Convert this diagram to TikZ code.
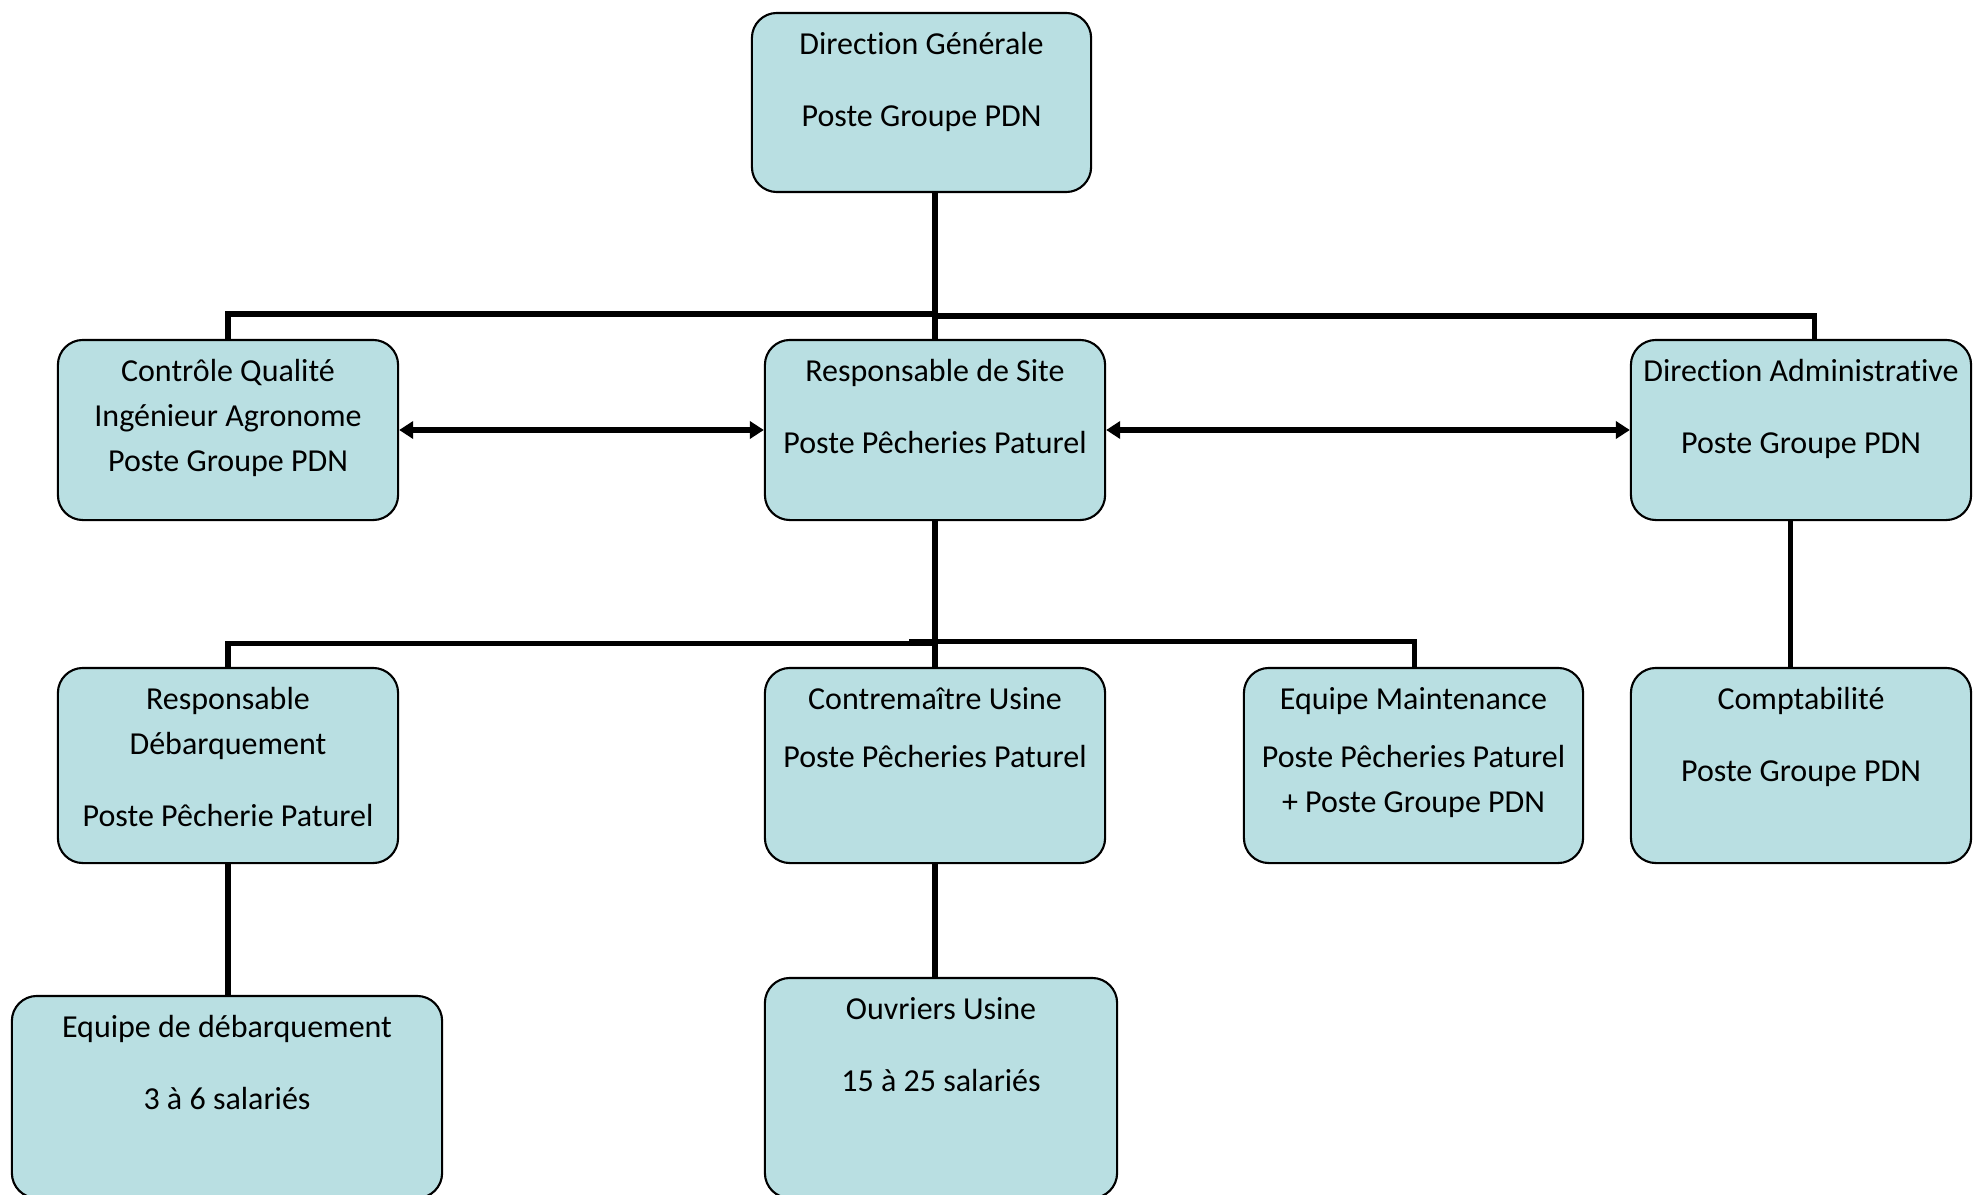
\documentclass[tikz,border=0pt]{standalone}
\usepackage{fontspec}
\setmainfont{Carlito}[Ligatures=NoCommon]
\usepackage{tikz}
\usetikzlibrary{positioning,calc,arrows.meta}

\definecolor{boxfill}{RGB}{185,223,226}
\tikzset{
    orgbox/.style={draw=black, line width=0.6pt, fill=boxfill, rounded corners=0.25cm, inner sep=0pt, minimum width=3.4cm},
    orgtxt/.style={anchor=north, align=center, inner sep=0pt, font=\fontsize{9.1}{12.8}\selectfont},
    link/.style={line width=1.45pt},
    dlink/.style={line width=1.45pt, {Triangle[length=0.14cm,width=0.17cm]}-{Triangle[length=0.14cm,width=0.17cm]}}
}

\begin{document}
\begin{tikzpicture}[x=0.01cm, y=-0.01cm]
    \useasboundingbox (0,0) rectangle (1973,1194);
    \clip (0,0) rectangle (1973,1194);

    % top
    \node[orgbox, minimum width=3.39cm, minimum height=1.79cm] (dg) at (921.5,102.5) {};
    \node[orgtxt] (dgt) at ([yshift=-0.1cm]dg.north) {\strut Direction Générale\\[0.27cm] Poste Groupe PDN};

    % second row
    \node[orgbox, minimum height=1.8cm] (cq) at (228,430) {};
    \node[orgbox, minimum height=1.8cm] (rs) at (935,430) {};
    \node[orgbox, minimum height=1.8cm] (da) at (1801,430) {};
    \node[orgtxt] (cqt) at ([yshift=-0.1cm]cq.north) {\strut Contrôle Qualité\\ Ingénieur Agronome\\ Poste Groupe PDN};
    \node[orgtxt] (rst) at ([yshift=-0.1cm]rs.north) {\strut Responsable de Site\\[0.27cm] Poste Pêcheries Paturel};
    \node[orgtxt] (dat) at ([yshift=-0.1cm]da.north) {\strut Direction Administrative\\[0.27cm] Poste Groupe PDN};

    % third row
    \node[orgbox, minimum height=1.95cm] (rd) at (228,765.5) {};
    \node[orgbox, minimum height=1.95cm] (cu) at (935,765.5) {};
    \node[orgbox, minimum width=3.39cm, minimum height=1.95cm] (em) at (1413.5,765.5) {};
    \node[orgbox, minimum height=1.95cm] (co) at (1801,765.5) {};
    \node[orgtxt] (rdt) at ([yshift=-0.1cm]rd.north) {\strut Responsable\\ Débarquement\\[0.27cm] Poste Pêcherie Paturel};
    \node[orgtxt] (cut) at ([yshift=-0.1cm]cu.north) {\strut Contremaître Usine\\[0.13cm] Poste Pêcheries Paturel};
    \node[orgtxt] (emt) at ([yshift=-0.1cm]em.north) {\strut Equipe Maintenance\\[0.13cm] Poste Pêcheries Paturel\\ + Poste Groupe PDN};
    \node[orgtxt] (cot) at ([yshift=-0.1cm]co.north) {\strut Comptabilité\\[0.27cm] Poste Groupe PDN};

    % bottom row
    \node[orgbox, minimum width=4.3cm, minimum height=2.02cm] (ed) at (227,1097) {};
    \node[orgbox, minimum width=3.52cm, minimum height=2.2cm] (ou) at (941,1088) {};
    \node[orgtxt] (edt) at ([yshift=-0.1cm]ed.north) {\strut Equipe de débarquement\\[0.27cm] 3 à 6 salariés};
    \node[orgtxt] (out) at ([yshift=-0.1cm]ou.north) {\strut Ouvriers Usine\\[0.27cm] 15 à 25 salariés};

    % links
    \coordinate (busL) at (935,314);
    \coordinate (busR) at (935,316);
    \coordinate (lowL) at (935,643.5);
    \coordinate (lowR) at (909,641.5);
    \draw[link] (dg.south -| rs.north) -- (rs.north);
    \draw[link] (cq.north) |- (busL);
    \draw[link] (busR) -| ($(da.north)+(13.5,0)$);
    \draw[dlink] (cq.east) -- (rs.west);
    \draw[dlink] (rs.east) -- (da.west);
    \draw[link] (rs.south) -- (cu.north);
    \draw[link] (rd.north) |- (lowL);
    \draw[link] (lowR) -| ($(em.north)+(1,0)$);
    \draw[link] ($(da.south)+(-10.5,0)$) -- ($(co.north)+(-10.5,0)$);
    \draw[link] (rd.south) -- (rd.south |- ed.north);
    \draw[link] (cu.south) -- (cu.south |- ou.north);
\end{tikzpicture}
\end{document}
